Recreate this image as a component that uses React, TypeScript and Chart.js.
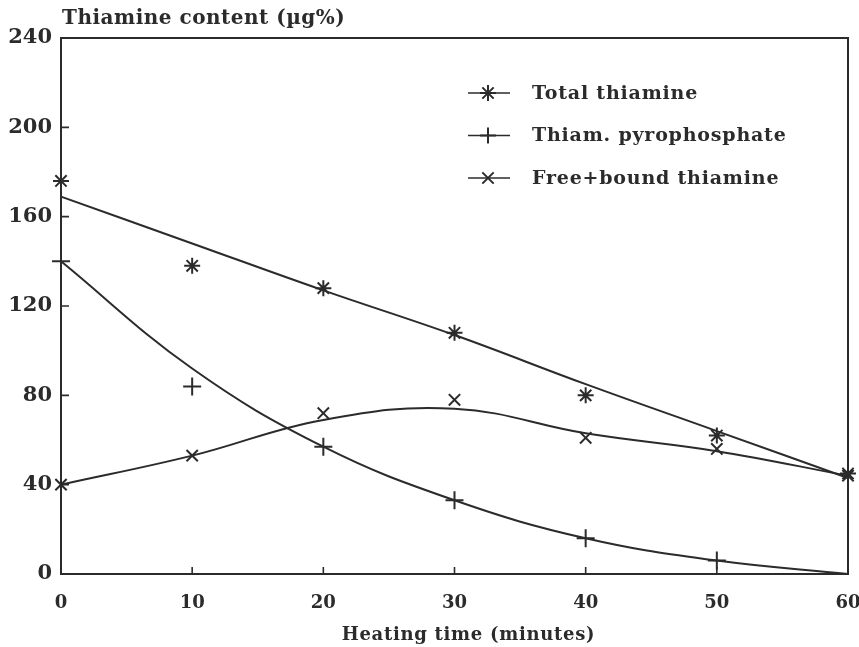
import React, { useEffect, useRef } from "react";
import { Chart, registerables } from "chart.js";

Chart.register(...registerables);

const TIMES = [0, 10, 20, 30, 40, 50, 60];
const TOTAL_OBS = [176, 138, 128, 108, 80, 62, 45];
const PYRO_OBS = [140, 84, 57, 33, 16, 6, null];
const FREE_OBS = [40, 53, 72, 78, 61, 56, 44];
const TOTAL_FIT = [169, 148, 127, 107, 85, 64, 43];
const PYRO_FIT = [140, 92, 57, 33, 16, 6, 0];
const FREE_FIT = [40, 53, 69, 74, 63, 55, 44];
const LEGEND_LABELS = ["Total thiamine", "Thiam. pyrophosphate", "Free+bound thiamine"];
const LEGEND_STYLES = ["star", "cross", "crossRot"];
const X_TICKS = [0, 10, 20, 30, 40, 50, 60];
const Y_TICKS = [0, 40, 80, 120, 160, 200, 240];
const Y_TITLE = "Thiamine content (\u00b5g%)";
const X_TITLE = "Heating time (minutes)";

const INK = "#2b2b2b";
const FONT = '"DejaVu Serif", serif';

function pts(vals: (number | null)[]) {
  return TIMES.map((t, i) => ({ x: t, y: vals[i] }));
}

function drawMarker(ctx: CanvasRenderingContext2D, style: string, cx: number, cy: number, r: number) {
  ctx.beginPath();
  if (style === "cross" || style === "star") {
    ctx.moveTo(cx - r, cy);
    ctx.lineTo(cx + r, cy);
    ctx.moveTo(cx, cy - r);
    ctx.lineTo(cx, cy + r);
  }
  if (style === "crossRot" || style === "star") {
    const d = r * Math.SQRT1_2;
    ctx.moveTo(cx - d, cy - d);
    ctx.lineTo(cx + d, cy + d);
    ctx.moveTo(cx - d, cy + d);
    ctx.lineTo(cx + d, cy - d);
  }
  ctx.stroke();
}

const decor = {
  id: "decor",
  afterDraw(chart: any) {
    const { ctx, chartArea: a, scales } = chart;
    const x = scales.x;
    const y = scales.y;
    ctx.save();
    ctx.strokeStyle = INK;
    ctx.fillStyle = INK;
    ctx.lineWidth = 2;
    ctx.strokeRect(a.left, a.top, a.right - a.left, a.bottom - a.top);
    ctx.lineWidth = 1.6;
    ctx.beginPath();
    Y_TICKS.forEach((v) => {
      const py = y.getPixelForValue(v);
      ctx.moveTo(a.left, py);
      ctx.lineTo(a.left + 8, py);
    });
    X_TICKS.forEach((v) => {
      const px = x.getPixelForValue(v);
      ctx.moveTo(px, a.bottom);
      ctx.lineTo(px, a.bottom - 7);
    });
    ctx.stroke();

    ctx.font = `bold 20px ${FONT}`;
    ctx.textAlign = "left";
    ctx.textBaseline = "alphabetic";
    (ctx as any).letterSpacing = "0.5px";
    ctx.fillText(Y_TITLE, a.left + 1, a.top - 14);
    ctx.font = `bold 18px ${FONT}`;
    (ctx as any).letterSpacing = "0.7px";
    ctx.textAlign = "center";
    ctx.fillText(X_TITLE, (a.left + a.right) / 2 + 14, a.bottom + 66);

    // legend
    ctx.textAlign = "left";
    ctx.textBaseline = "middle";
    ctx.font = `bold 19px ${FONT}`;
    (ctx as any).letterSpacing = "0.8px";
    const lx = a.left + 407;
    LEGEND_LABELS.forEach((lab, i) => {
      const ly = a.top + 55 + i * 42.5;
      ctx.lineWidth = 1.6;
      ctx.beginPath();
      ctx.moveTo(lx, ly);
      ctx.lineTo(lx + 42, ly);
      ctx.stroke();
      ctx.lineWidth = 2;
      drawMarker(ctx, LEGEND_STYLES[i], lx + 20, ly, 8);
      ctx.fillText(lab, lx + 64, ly + 1);
    });
    ctx.restore();
  },
};

export default function App() {
  const ref = useRef<HTMLCanvasElement | null>(null);
  useEffect(() => {
    document.body.style.margin = "0";
    document.body.style.background = "#ffffff";
    const fitLine = (vals: (number | null)[]) => ({
      type: "line" as const,
      data: pts(vals),
      borderColor: INK,
      borderWidth: 2,
      pointRadius: 0,
      tension: 0.4,
      fill: false,
      clip: false,
    });
    const markers = (vals: (number | null)[], style: string, r: number) => ({
      type: "scatter" as const,
      data: pts(vals),
      showLine: false,
      pointStyle: style,
      pointRadius: r,
      pointBorderWidth: 2,
      pointBorderColor: INK,
      pointBackgroundColor: INK,
      clip: false,
    });
    const chart = new Chart(ref.current as HTMLCanvasElement, {
      type: "line",
      data: {
        datasets: [
          fitLine(TOTAL_FIT),
          fitLine(PYRO_FIT),
          fitLine(FREE_FIT),
          markers(TOTAL_OBS, "star", 8),
          markers(PYRO_OBS, "cross", 9),
          markers(FREE_OBS, "crossRot", 8),
        ] as any,
      },
      options: {
        animation: false,
        responsive: true,
        maintainAspectRatio: false,
        layout: { padding: { left: 0, right: 11, top: 38, bottom: 0 } },
        plugins: { legend: { display: false }, tooltip: { enabled: false } },
        scales: {
          x: {
            type: "linear",
            min: 0,
            max: 60,
            afterFit: (s: any) => {
              s.height = 73;
              s.paddingLeft = 0;
              s.paddingRight = 0;
            },
            afterBuildTicks: (s: any) => {
              s.ticks = X_TICKS.map((v) => ({ value: v }));
            },
            grid: { display: false, drawTicks: false },
            border: { display: false },
            ticks: {
              color: INK,
              padding: 19,
              font: { family: FONT, weight: "bold", size: 18 },
            },
          },
          y: {
            type: "linear",
            min: 0,
            max: 240,
            afterFit: (s: any) => {
              s.width = 61;
              s.paddingTop = 0;
              s.paddingBottom = 0;
            },
            afterBuildTicks: (s: any) => {
              s.ticks = Y_TICKS.map((v) => ({ value: v }));
            },
            grid: { display: false, drawTicks: false },
            border: { display: false },
            ticks: {
              color: INK,
              padding: 9,
              font: { family: FONT, weight: "bold", size: 21 },
            },
          },
        },
      },
      plugins: [decor],
    });
    return () => chart.destroy();
  }, []);
  return (
    <div style={{ position: "fixed", left: 0, top: 0, width: 859, height: 647, background: "#fff" }}>
      <canvas ref={ref} />
    </div>
  );
}
